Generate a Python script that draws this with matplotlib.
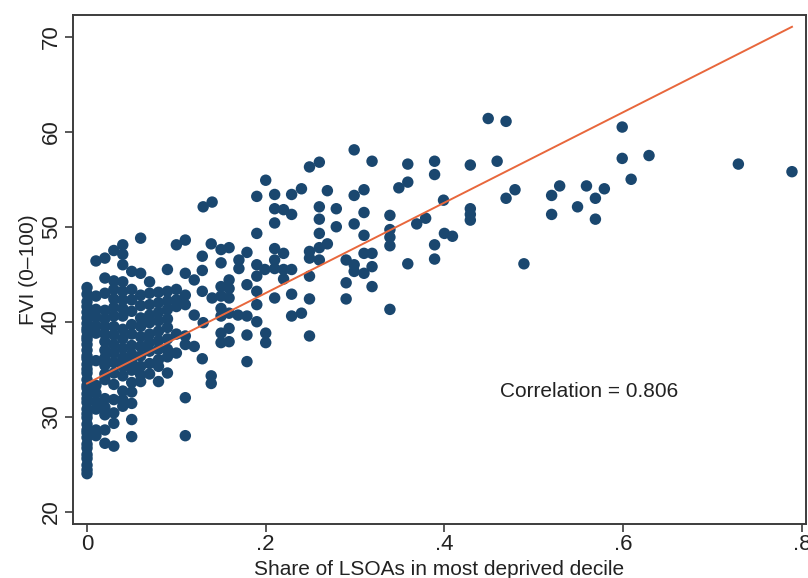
import numpy as np
import matplotlib.pyplot as plt

# FVI for areas with no LSOA in the most deprived decile (share = 0)
zero_share_fvi = [24.0, 24.4, 24.9, 25.6, 26.0, 26.7, 27.1, 27.8, 28.3, 28.6, 29.2, 29.9,
                  30.3, 30.8, 31.5, 31.9, 32.4, 33.0, 33.3, 33.9, 34.6, 35.0, 35.5, 36.1,
                  36.4, 37.0, 37.6, 38.1, 38.4, 39.0, 39.3, 39.8, 40.4, 41.0, 41.6, 42.1,
                  42.9, 43.6]

# low shares: share -> FVI values read column by column
low_share_cols = {
    0.01: [46.4, 42.7, 41.3, 40.5, 39.6, 38.8, 35.9, 33.3, 32.5, 31.6, 30.8, 28.6, 28.0],
    0.02: [46.7, 44.6, 43.0, 41.2, 40.3, 39.5, 38.7, 37.9, 37.0, 36.2, 35.4, 34.5, 33.9,
           31.9, 31.0, 30.2, 28.6, 27.2],
    0.03: [47.5, 44.3, 43.4, 42.4, 41.5, 40.6, 39.5, 38.6, 37.6, 36.7, 35.7, 34.6, 33.4,
           31.8, 30.4, 29.3, 26.9],
    0.04: [48.1, 47.1, 46.0, 44.2, 43.2, 42.3, 41.4, 40.6, 39.2, 38.2, 37.2, 36.2, 35.3,
           34.3, 32.7, 31.8, 31.1],
    0.05: [45.3, 43.4, 42.3, 41.1, 39.7, 38.7, 37.5, 36.6, 35.8, 34.9, 33.6, 32.6, 31.4,
           29.7, 27.9],
    0.06: [48.8, 45.1, 42.8, 41.7, 40.4, 39.5, 38.4, 37.4, 36.4, 35.3, 34.4, 33.7],
    0.07: [44.2, 43.0, 41.8, 40.7, 39.9, 38.7, 37.8, 36.9, 35.6, 34.5],
    0.08: [43.1, 42.0, 41.0, 40.1, 39.0, 38.0, 37.1, 36.0, 35.3, 33.7],
    0.09: [45.5, 43.2, 42.2, 41.3, 40.3, 39.4, 38.2, 37.1, 36.3, 34.6],
    0.10: [48.1, 43.4, 42.3, 41.6, 38.7, 36.7],
    0.11: [48.6, 45.1, 42.8, 41.8, 38.5, 37.6, 32.0, 28.0],
    0.12: [44.4, 40.7, 37.4],
}

# remaining areas: (share, FVI)
mid_points = [
    (0.129, 46.9), (0.129, 45.4), (0.129, 43.2), (0.13, 39.9), (0.129, 36.1),
    (0.139, 48.2), (0.14, 42.5), (0.139, 34.3), (0.139, 33.5), (0.13, 52.1), (0.14, 52.6),
    (0.15, 47.6), (0.15, 46.2), (0.15, 43.7), (0.15, 42.7), (0.15, 41.4), (0.15, 40.6),
    (0.15, 38.8), (0.15, 37.8),
    (0.159, 47.8), (0.159, 44.4), (0.159, 43.5), (0.159, 42.5), (0.159, 40.9),
    (0.159, 39.3), (0.159, 37.9),
    (0.169, 40.7), (0.17, 46.5), (0.17, 45.6),
    (0.179, 47.3), (0.179, 43.9), (0.179, 40.6), (0.179, 38.6), (0.179, 35.8),
    (0.19, 49.3), (0.19, 46.0), (0.19, 44.8), (0.19, 43.2), (0.19, 41.8), (0.19, 40.0),
    (0.19, 53.2),
    (0.2, 54.9), (0.199, 45.5), (0.2, 38.8), (0.2, 37.8),
    (0.21, 50.4), (0.21, 47.7), (0.21, 46.5), (0.21, 45.6), (0.21, 42.5), (0.21, 53.4),
    (0.21, 51.9),
    (0.22, 47.2), (0.22, 45.5), (0.22, 44.5), (0.22, 51.8),
    (0.229, 45.5), (0.229, 42.9), (0.229, 40.6), (0.229, 53.4), (0.229, 51.3),
    (0.24, 54.0), (0.24, 40.9),
]

high_points = [
    (0.249, 56.3), (0.26, 56.8), (0.299, 58.1), (0.319, 56.9), (0.359, 56.6),
    (0.389, 56.9), (0.389, 55.5), (0.359, 54.7), (0.349, 54.1), (0.269, 53.8),
    (0.31, 53.9), (0.299, 53.3), (0.26, 52.1), (0.26, 50.8), (0.279, 51.9), (0.31, 51.5),
    (0.299, 50.3), (0.279, 50.0), (0.26, 49.3), (0.31, 49.1), (0.339, 51.2), (0.339, 49.7),
    (0.339, 48.9), (0.339, 48.0), (0.369, 50.3), (0.379, 50.9), (0.399, 52.8), (0.4, 49.3),
    (0.409, 49.0), (0.389, 48.1), (0.389, 46.6), (0.359, 46.1), (0.249, 47.4), (0.26, 47.8),
    (0.269, 48.2), (0.249, 46.7), (0.26, 46.5), (0.249, 44.8), (0.29, 46.5), (0.299, 46.0),
    (0.299, 45.3), (0.31, 45.1), (0.319, 45.8), (0.319, 47.2), (0.31, 47.2), (0.29, 44.1),
    (0.319, 43.7), (0.29, 42.4), (0.249, 42.4), (0.249, 38.5), (0.339, 41.3),
    (0.429, 56.5), (0.459, 56.9), (0.449, 61.4), (0.469, 61.1), (0.429, 51.9),
    (0.429, 51.3), (0.429, 50.7), (0.479, 53.9), (0.469, 53.0), (0.489, 46.1),
    (0.52, 53.3), (0.529, 54.3), (0.52, 51.3), (0.559, 54.3), (0.569, 53.0), (0.579, 54.0),
    (0.549, 52.1), (0.569, 50.8), (0.599, 60.5), (0.599, 57.2), (0.629, 57.5),
    (0.609, 55.0), (0.729, 56.6), (0.789, 55.8),
]

# linear fit
fit_intercept = 33.5
fit_slope = 47.6
correlation = 0.806

x_ticks = [0, 0.2, 0.4, 0.6, 0.8]
x_tick_labels = ['0', '.2', '.4', '.6', '.8']
y_ticks = [20, 30, 40, 50, 60, 70]

# assemble arrays
share = [0.0] * len(zero_share_fvi)
fvi = list(zero_share_fvi)
for s, vals in low_share_cols.items():
    share += [s] * len(vals)
    fvi += vals
for s, v in mid_points + high_points:
    share.append(s)
    fvi.append(v)
share = np.array(share)
fvi = np.array(fvi)

plt.rcParams['font.family'] = ['Liberation Sans', 'DejaVu Sans']

fig = plt.figure(figsize=(8.08, 5.78), dpi=100)
ax = fig.add_axes([73 / 808, 54 / 578, 733 / 808, 509 / 578])

navy = '#1a476f'
orange = '#e8673c'
frame = '#3c3c3c'

ax.scatter(share, fvi, s=68, color=navy, edgecolors='none', zorder=2)

xf = np.array([share.min(), share.max()])
ax.plot(xf, fit_intercept + fit_slope * xf, color=orange, lw=1.4, zorder=3)

ax.text(0.462, 32.7, f'Correlation = {correlation:.3f}', fontsize=15,
        ha='left', va='center', color='#222222')

ax.set_xlim(-0.0157, 0.8047)
ax.set_ylim(18.7, 72.3)
ax.set_xticks(x_ticks)
ax.set_xticklabels(x_tick_labels)
ax.set_yticks(y_ticks)
ax.set_yticklabels([str(t) for t in y_ticks], rotation=90, va='center')

ax.tick_params(axis='both', direction='out', length=6, width=1.2, color=frame,
               labelsize=16, labelcolor='#222222')
ax.tick_params(axis='x', pad=1)
ax.tick_params(axis='y', pad=2)
for sp in ax.spines.values():
    sp.set_color(frame)
    sp.set_linewidth(1.4)

ax.set_xlabel('Share of LSOAs in most deprived decile', fontsize=15, color='#222222',
              labelpad=4)
ax.set_ylabel('FVI (0\u2013100)', fontsize=15, color='#222222', labelpad=2)

fig.savefig('out.png', dpi=100, facecolor='white')
